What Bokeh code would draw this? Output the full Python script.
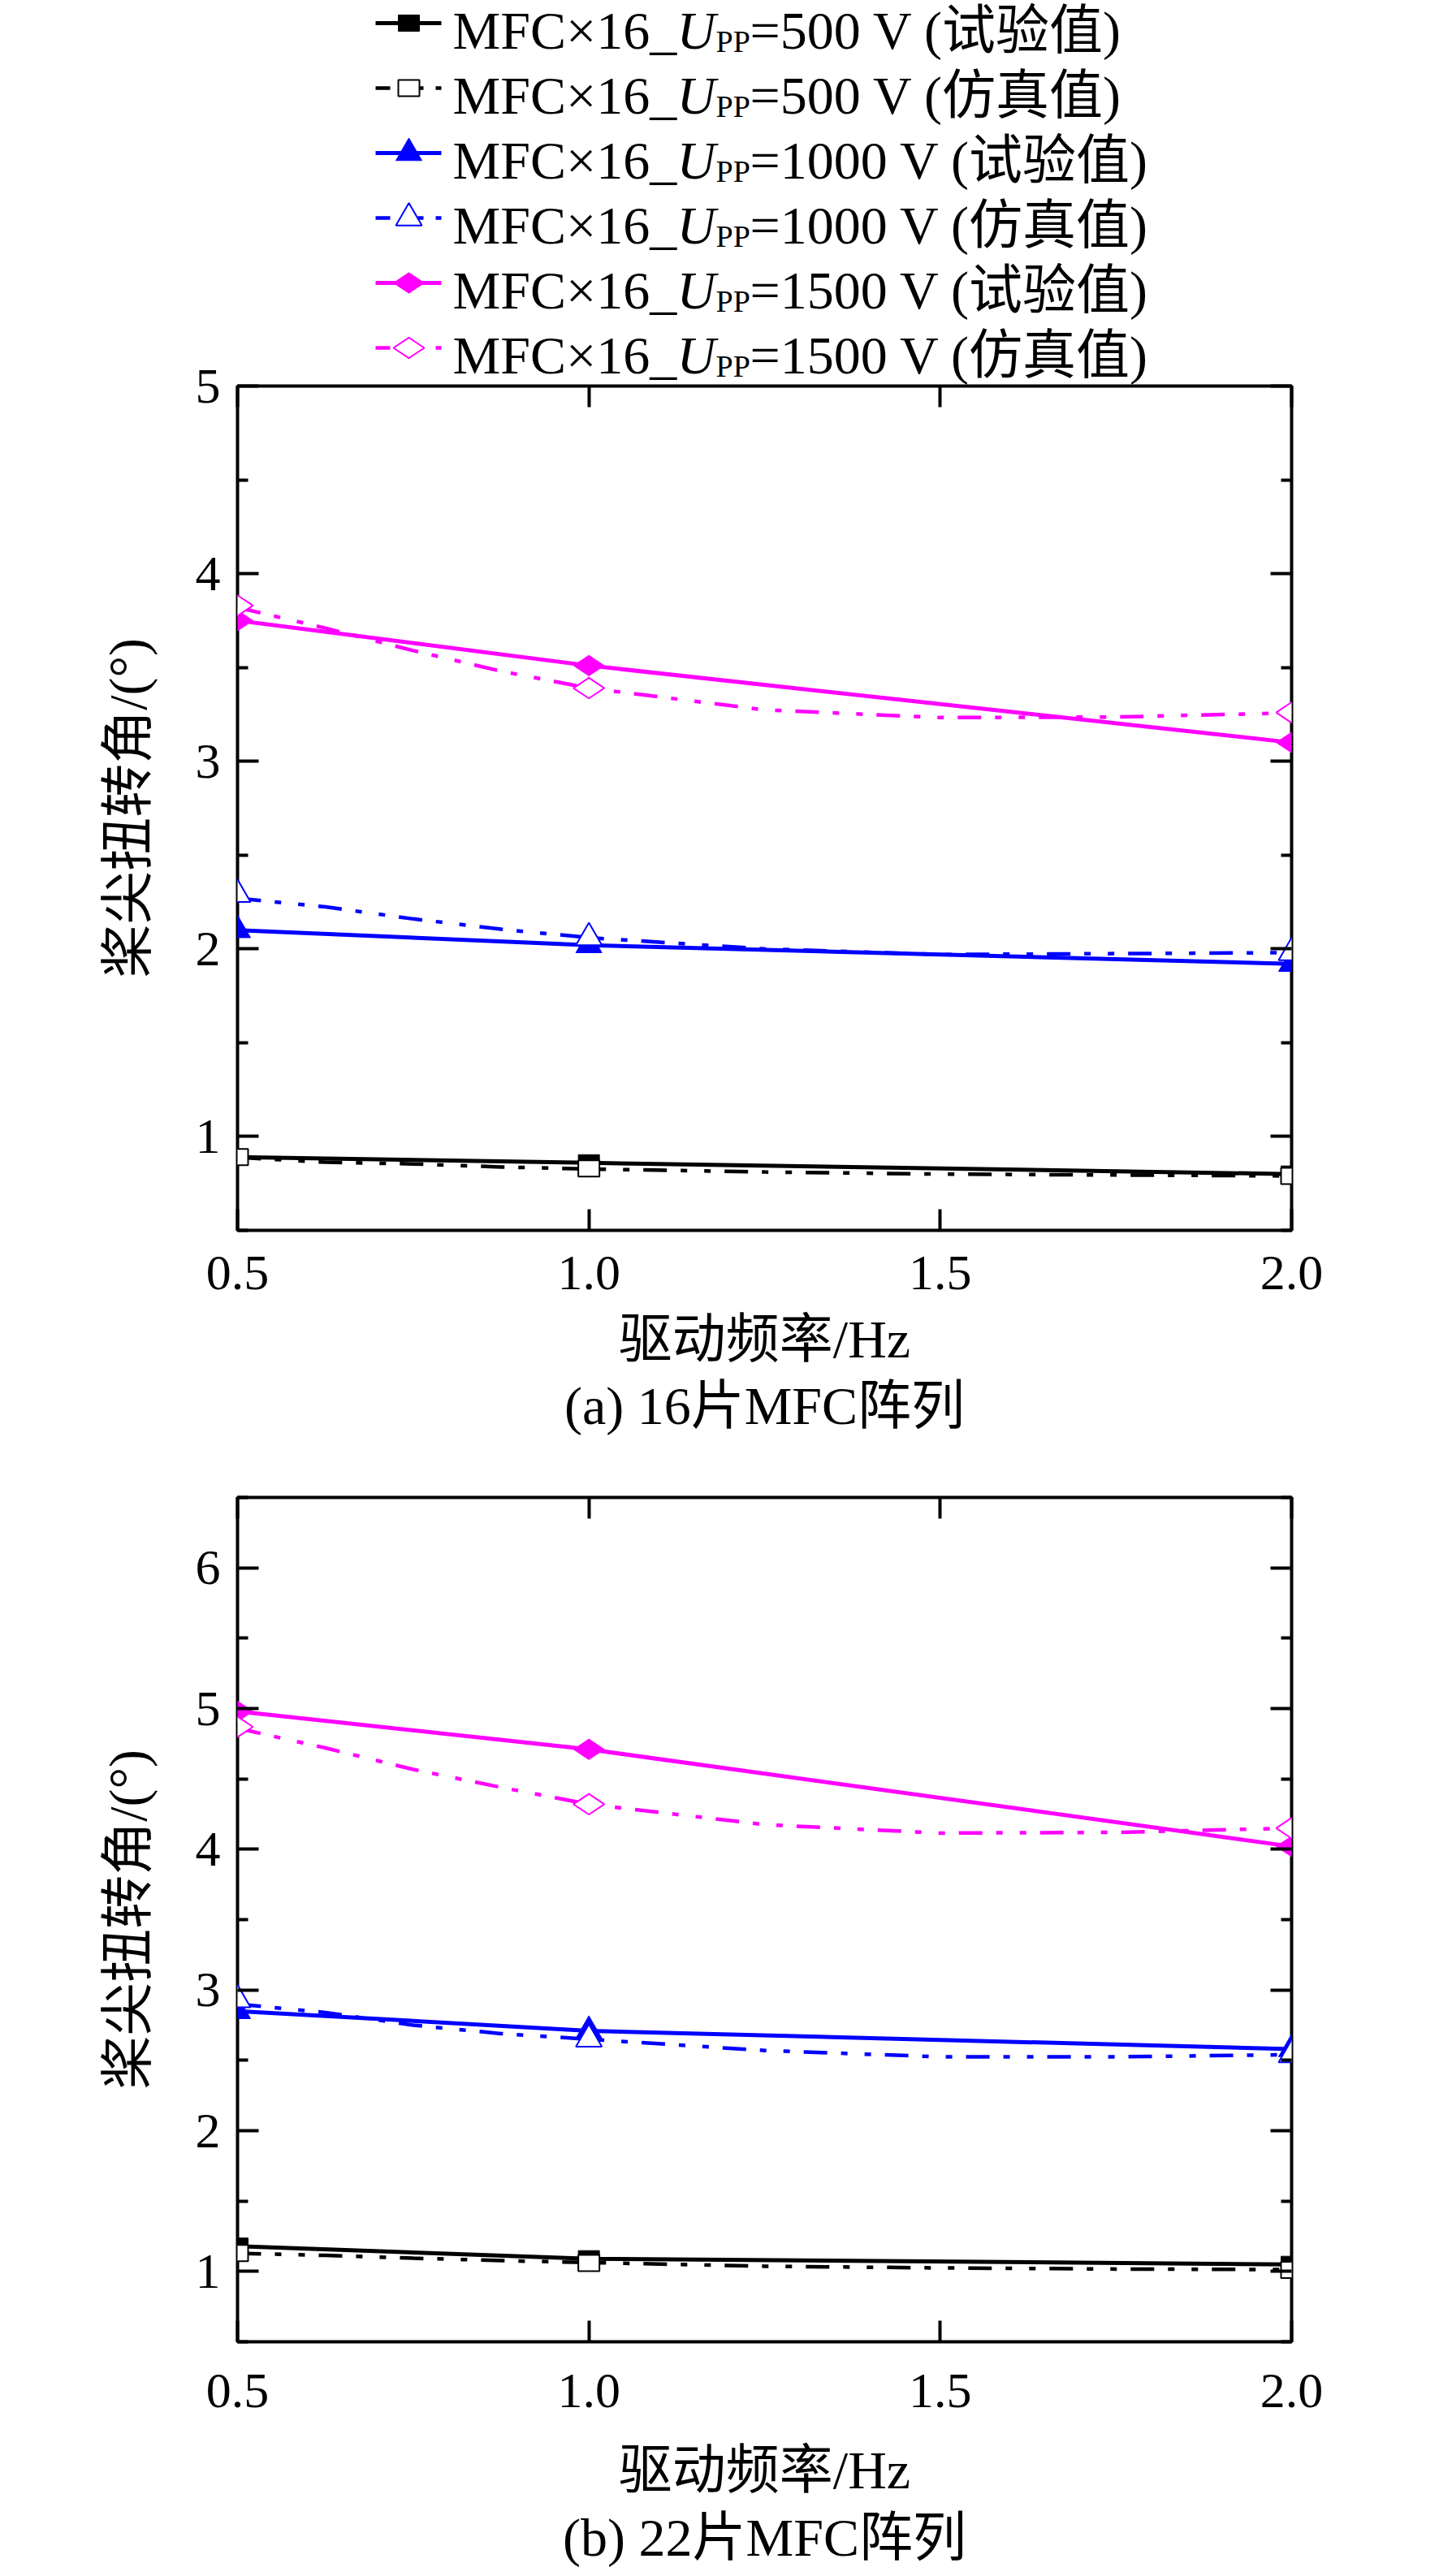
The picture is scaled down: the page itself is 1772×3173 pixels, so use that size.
import numpy as np
from bokeh.plotting import figure
from bokeh.models import Range1d, FixedTicker, LinearAxis, Title, CustomJSTickFormatter, PrintfTickFormatter
from bokeh.layouts import column
from bokeh.embed import file_html
from bokeh.resources import INLINE
from bokeh.core.properties import value

# ---------------- data ----------------
freq = [0.5, 1.0, 2.0]
freq_curve = [0.5, 0.625, 0.75, 0.875, 1.0, 1.25, 1.5, 1.75, 2.0]
voltages = [500, 1000, 1500]
kinds = ["试验值", "仿真值"]
x_ticks = [0.5, 1.0, 1.5, 2.0]
x_tick_labels = ["0.5", "1.0", "1.5", "2.0"]

# (a) 16 MFC
a_500_exp = [0.89, 0.86, 0.80]
a_500_sim = [0.89, 0.83, 0.79]
a_500_sim_curve = [0.889, 0.863, 0.854, 0.838, 0.827, 0.811, 0.800, 0.795, 0.790]
a_1000_exp = [2.10, 2.02, 1.92]
a_1000_sim = [2.29, 2.06, 1.98]
a_1000_sim_curve = [2.27, 2.224, 2.16, 2.105, 2.06, 2.00, 1.97, 1.975, 1.98]
a_1500_exp = [3.75, 3.51, 3.10]
a_1500_sim = [3.83, 3.39, 3.26]
a_1500_sim_curve = [3.82, 3.71, 3.59, 3.48, 3.39, 3.274, 3.233, 3.236, 3.258]
a_y_ticks = [1, 2, 3, 4, 5]
a_y_minor = [0.5, 1.5, 2.5, 3.5, 4.5]

# (b) 22 MFC
b_500_exp = [1.18, 1.09, 1.05]
b_500_sim = [1.13, 1.06, 1.01]
b_500_sim_curve = [1.129, 1.114, 1.094, 1.077, 1.063, 1.037, 1.025, 1.017, 1.013]
b_1000_exp = [2.85, 2.71, 2.58]
b_1000_sim = [2.93, 2.65, 2.54]
b_1000_sim_curve = [2.90, 2.84, 2.75, 2.69, 2.65, 2.57, 2.525, 2.525, 2.54]
b_1500_exp = [4.98, 4.71, 4.02]
b_1500_sim = [4.87, 4.32, 4.15]
b_1500_sim_curve = [4.86, 4.72, 4.567, 4.44, 4.32, 4.175, 4.115, 4.12, 4.15]
b_y_ticks = [1, 2, 3, 4, 5, 6]
b_y_minor = [0.5, 1.5, 2.5, 3.5, 4.5, 5.5, 6.5]

# ---------------- styles ----------------
FONT = "Liberation Serif, Noto Sans CJK SC"
COLORS = ["#000000", "#0000ff", "#ff00ff"]
MARKERS = ["square", "triangle", "diamond"]
SIM_DASH = "29 17 8 21 8 17"
LEG_DASH = "18 34 7 15 7 20"
EXP_W = 5
SIM_W = 4.5
FRAME_W, FRAME_H = 1298, 1040
BORDER_L, BORDER_R = 292, 150
PAGE_MARGIN = 8
TOP_A = 475            # space above panel (a) that holds the legend
TRI_SIZE = 32
DIA_SIZE = 38


def draw_marker(p, kind, x, y, color, filled, **kw):
    fill = color if filled else "white"
    lw = 1 if filled else 2
    if kind == "square":
        p.rect(x=x, y=y, width=26, height=20, width_units="screen", height_units="screen",
               fill_color=fill, line_color=color, line_width=lw, **kw)
    elif kind == "triangle":
        p.scatter(x=x, y=y, marker="triangle", size=TRI_SIZE, fill_color=fill,
                  line_color=color, line_width=lw, **kw)
    else:
        p.scatter(x=x, y=y, marker="diamond", size=DIA_SIZE, angle=np.pi / 2,
                  fill_color=fill, line_color=color, line_width=lw, **kw)


def draw_legend_marker(p, kind, cx, cy, color, filled, **kw):
    """Legend sample symbol; coordinates are page pixels (y downwards)."""
    fill = color if filled else "white"
    lw = 1 if filled else 2
    if kind == "square":
        p.rect(x=[cx], y=[cy], width=26, height=20, width_units="screen", height_units="screen",
               fill_color=fill, line_color=color, line_width=lw, **kw)
        return
    if kind == "triangle":
        r = TRI_SIZE / 2
        h = r * np.sqrt(3)
        a = h / 3
        xs = [cx - r, cx + r, cx]
        ys = [cy + a, cy + a, cy + a - h]
    else:
        hw = DIA_SIZE / 2
        hh = DIA_SIZE / 3
        xs = [cx - hw, cx, cx + hw, cx]
        ys = [cy, cy - hh, cy, cy + hh]
    p.patch(xs, ys, fill_color=fill, line_color=color, line_width=lw, **kw)


def style_axis(ax, show_labels):
    ax.axis_line_color = None
    ax.major_tick_in = 26
    ax.major_tick_out = 0
    ax.minor_tick_in = 13
    ax.minor_tick_out = 0
    ax.major_tick_line_width = 4
    ax.minor_tick_line_width = 4
    ax.major_tick_line_color = "black"
    ax.minor_tick_line_color = "black"
    if not show_labels:
        ax.formatter = CustomJSTickFormatter(code="return ''")
        ax.major_label_text_font_size = "0px"
        ax.major_label_standoff = 0
    else:
        ax.major_label_text_font = FONT
        ax.major_label_text_font_size = "62px"
        ax.major_label_text_color = "black"
        ax.axis_label_text_font = FONT
        ax.axis_label_text_font_size = "66px"
        ax.axis_label_text_font_style = "normal"
        ax.axis_label_text_color = "black"


def make_panel(series, y_max, y_ticks, y_minor, caption, top_border, bottom_border,
               tick_standoff, label_standoff, title_standoff):
    p = figure(frame_width=FRAME_W, frame_height=FRAME_H, title=None,
               x_range=Range1d(0.5, 2.0), y_range=Range1d(0.5, y_max),
               output_backend="svg", toolbar_location=None,
               min_border_left=BORDER_L, min_border_right=BORDER_R,
               min_border_top=top_border, min_border_bottom=bottom_border,
               x_axis_label="驱动频率/Hz", y_axis_label="桨尖扭转角/(°)")
    p.xgrid.visible = False
    p.ygrid.visible = False
    p.outline_line_color = "black"
    p.outline_line_width = 4
    p.background_fill_color = "white"
    p.border_fill_color = "white"

    xticker = FixedTicker(ticks=x_ticks, minor_ticks=[])
    yticker = FixedTicker(ticks=y_ticks, minor_ticks=y_minor)
    p.xaxis.ticker = xticker
    p.yaxis.ticker = yticker
    p.xaxis.formatter = PrintfTickFormatter(format="%.1f")
    p.xaxis.major_label_overrides = {t: l for t, l in zip(x_ticks, x_tick_labels)}
    p.yaxis.formatter = PrintfTickFormatter(format="%d")
    style_axis(p.xaxis[0], True)
    style_axis(p.yaxis[0], True)
    p.xaxis.major_label_standoff = tick_standoff
    p.xaxis.axis_label_standoff = label_standoff
    p.yaxis.major_label_standoff = 21
    p.yaxis.axis_label_standoff = 44

    top = LinearAxis(ticker=xticker)
    style_axis(top, False)
    p.add_layout(top, "above")
    right = LinearAxis(ticker=yticker)
    style_axis(right, False)
    p.add_layout(right, "right")

    for (exp, sim, curve), color, kind in zip(series, COLORS, MARKERS):
        p.line(freq, exp, line_color=color, line_width=EXP_W)
        draw_marker(p, kind, freq, exp, color, True)
        p.line(freq_curve, curve, line_color=color, line_width=SIM_W, line_dash=SIM_DASH)
        draw_marker(p, kind, freq, sim, color, False)

    p.add_layout(Title(text=caption, align="center", text_font=FONT, text_font_size="66px",
                       text_font_style="normal", text_color="black", standoff=title_standoff), "below")
    return p


pa = make_panel([(a_500_exp, a_500_sim, a_500_sim_curve),
                 (a_1000_exp, a_1000_sim, a_1000_sim_curve),
                 (a_1500_exp, a_1500_sim, a_1500_sim_curve)],
                5, a_y_ticks, a_y_minor, "(a) 16片MFC阵列", TOP_A, 300, 32, 22, 8)
pb = make_panel([(b_500_exp, b_500_sim, b_500_sim_curve),
                 (b_1000_exp, b_1000_sim, b_1000_sim_curve),
                 (b_1500_exp, b_1500_sim, b_1500_sim_curve)],
                6.5, b_y_ticks, b_y_minor, "(b) 22片MFC阵列", 29, 276, 40, 38, 10)

# ---------------- legend, drawn in the space above panel (a) ----------------
# extra ranges whose units are page pixels, so the legend can sit above the frame
fx0 = PAGE_MARGIN + BORDER_L
fy0 = PAGE_MARGIN + TOP_A
pa.extra_x_ranges = {"px": Range1d(fx0, fx0 + FRAME_W)}
pa.extra_y_ranges = {"py": Range1d(fy0 + FRAME_H, fy0)}
LK = dict(x_range_name="px", y_range_name="py", level="annotation")

row_line = [36 + 80 * i for i in range(6)]   # sample-line heights (page px)
row_base = [45 + 80 * i for i in range(6)]   # text anchor heights (page px)
line_x0, line_x1, mark_x = 470, 551, 511
x_main, x_u, x_sub, x_rest = 565, 841, 889, 931

i = 0
for v, color, kind in zip(voltages, COLORS, MARKERS):
    for k, kname in enumerate(kinds):
        yb = row_base[i]
        yl = row_line[i]
        if k == 0:
            pa.line([line_x0, line_x1], [yl, yl], line_color=color, line_width=EXP_W, **LK)
        else:
            pa.line([line_x0, line_x1], [yl, yl], line_color=color, line_width=SIM_W,
                    line_dash=LEG_DASH, **LK)
        draw_legend_marker(pa, kind, mark_x, yl, color, k == 0, **LK)
        pa.text(x=[x_main], y=[yb], text=["MFC×16_"], text_font=value(FONT),
                text_font_size=value("66px"), text_baseline="alphabetic", text_color="black", **LK)
        pa.text(x=[x_u], y=[yb], text=["U"], text_font=value(FONT), text_font_style="italic",
                text_font_size=value("66px"), text_baseline="alphabetic", text_color="black", **LK)
        pa.text(x=[x_sub], y=[yb + 13], text=["PP"], text_font=value(FONT),
                text_font_size=value("38px"), text_baseline="alphabetic", text_color="black", **LK)
        pa.text(x=[x_rest], y=[yb], text=[f"={v} V ({kname})"], text_font=value(FONT),
                text_font_size=value("66px"), text_baseline="alphabetic", text_color="black", **LK)
        i += 1

layout = column(pa, pb, spacing=0)
open("out.html", "w").write(file_html(layout, INLINE))
